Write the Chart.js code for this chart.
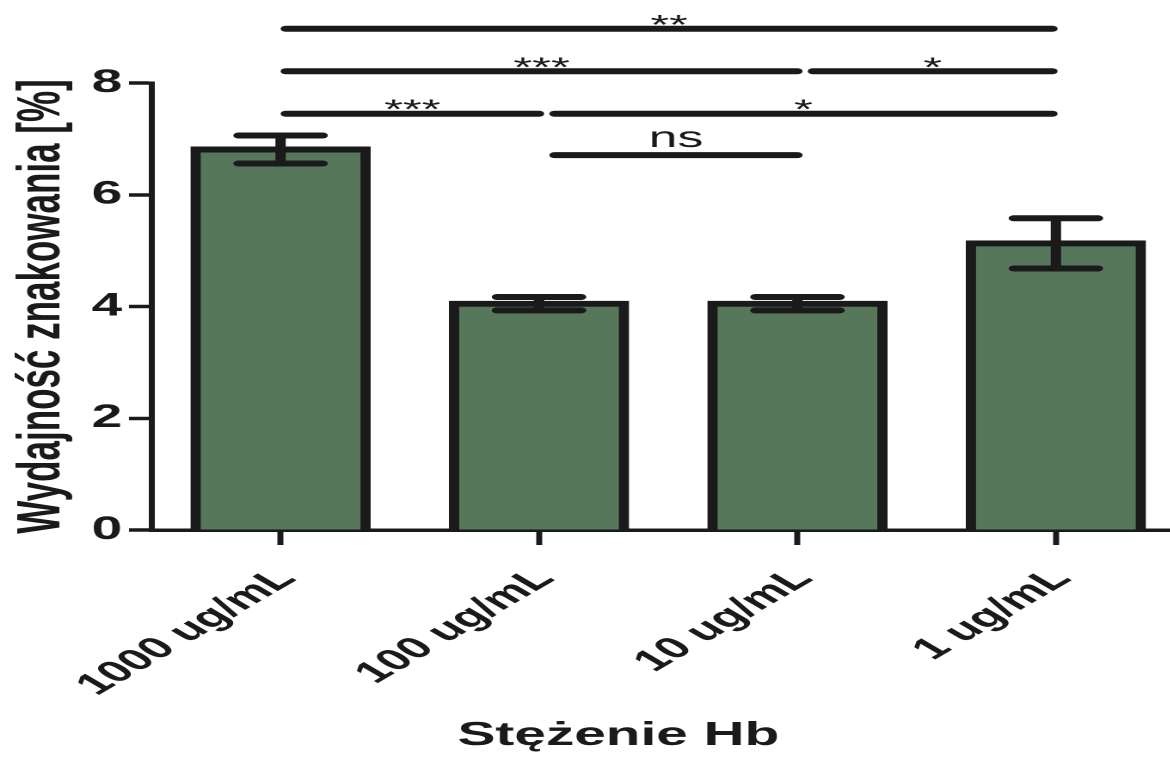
<!DOCTYPE html>
<html>
<head>
<meta charset="utf-8">
<script src="https://cdn.jsdelivr.net/npm/chart.js@4"></script>
<style>
  html, body { margin: 0; padding: 0; background: #fff; overflow: hidden; width: 1170px; height: 757px; }
  /* oryginalny rysunek jest rozciagniety w poziomie */
  #wrap { position: absolute; left: 0; top: 0; width: 696px; height: 757px; transform: scaleX(1.72); transform-origin: 0 0; }
</style>
</head>
<body>
<div id="wrap"><canvas id="wykres"></canvas></div>
<script>
// dane
const kategorie = ['1000 ug/mL', '100 ug/mL', '10 ug/mL', '1 ug/mL'];
const wydajnosc = [6.81, 4.05, 4.05, 5.13];
const blad = [0.25, 0.12, 0.12, 0.45];
const osY = [0, 2, 4, 6, 8];

// porownania: od slupka, do slupka, poziom kreski (jednostki osi Y), opis
const porOd = [0, 0, 2, 0, 1, 1];
const porDo = [3, 2, 3, 1, 3, 2];
const porPoziom = [8.97, 8.21, 8.21, 7.45, 7.45, 6.71];
const porOpis = ['**', '***', '*', '***', '*', 'ns'];

const tytulX = 'Stężenie Hb';
const tytulY = 'Wydajność znakowania [%]';

const czarny = '#1a1a1a';
const czcionka = '"Liberation Sans", Arial, sans-serif';
Chart.defaults.font.family = czcionka;
Chart.defaults.color = czarny;

const bledy = {
  id: 'bledy',
  afterDatasetsDraw(chart) {
    const ctx = chart.ctx;
    const y = chart.scales.y;
    ctx.save();
    ctx.strokeStyle = czarny;
    ctx.lineWidth = 6;
    ctx.lineCap = 'round';
    chart.getDatasetMeta(0).data.forEach((bar, i) => {
      const gora = y.getPixelForValue(wydajnosc[i] + blad[i]);
      const dol = y.getPixelForValue(wydajnosc[i] - blad[i]);
      const pol = 24.5;
      ctx.beginPath();
      ctx.moveTo(bar.x, gora); ctx.lineTo(bar.x, dol);
      ctx.moveTo(bar.x - pol, gora); ctx.lineTo(bar.x + pol, gora);
      ctx.moveTo(bar.x - pol, dol); ctx.lineTo(bar.x + pol, dol);
      ctx.stroke();
    });
    ctx.restore();
  }
};

const porownania = {
  id: 'porownania',
  afterDraw(chart) {
    const ctx = chart.ctx, x = chart.scales.x, y = chart.scales.y;
    const ostatni = kategorie.length - 1;
    ctx.save();
    ctx.strokeStyle = czarny;
    ctx.fillStyle = czarny;
    ctx.lineWidth = 6;
    ctx.lineCap = 'round';
    ctx.textAlign = 'center';
    ctx.textBaseline = 'alphabetic';
    porOd.forEach((a, k) => {
      const b = porDo[k];
      const x1 = x.getPixelForValue(a) + (a > 0 ? 9 : 3);
      const x2 = x.getPixelForValue(b) + (b < ostatni ? 0 : -2);
      const py = y.getPixelForValue(porPoziom[k]);
      ctx.beginPath();
      ctx.moveTo(x1, py); ctx.lineTo(x2, py);
      ctx.stroke();
      const ns = porOpis[k] === 'ns';
      ctx.font = (ns ? '30px ' : '28px ') + czcionka;
      ctx.fillText(porOpis[k], (x1 + x2) / 2, ns ? py - 8 : py + 5);
    });
    // tytul osi X (przesuniety w lewo jak w oryginale)
    const ca = chart.chartArea;
    ctx.font = 'bold 33px ' + czcionka;
    ctx.fillText(tytulX, (ca.left + ca.right) / 2 - 29, 745);
    ctx.restore();
  }
};

new Chart(document.getElementById('wykres'), {
  type: 'bar',
  data: {
    labels: kategorie,
    datasets: [{
      data: wydajnosc,
      backgroundColor: '#56775a',
      borderColor: czarny,
      borderWidth: 6,
      borderSkipped: 'start',
      inflateAmount: 3,
      categoryPercentage: 1,
      barPercentage: 0.658
    }]
  },
  options: {
    responsive: true,
    maintainAspectRatio: false,
    animation: false,
    devicePixelRatio: 2,
    layout: { padding: { top: 83, right: 7, left: 0, bottom: 0 } },
    plugins: { legend: { display: false }, tooltip: { enabled: false } },
    scales: {
      x: {
        z: 1,
        offset: true,
        grid: { drawOnChartArea: false, offset: false, tickLength: 15, tickWidth: 3.5, tickColor: czarny },
        border: { width: 3.5, color: czarny },
        ticks: {
          color: czarny,
          font: { size: 30, weight: 'bold' },
          minRotation: 45, maxRotation: 45, autoSkip: false,
          padding: 16, labelOffset: 4
        },
        afterFit(s) { s.height = 227; }
      },
      y: {
        min: 0, max: 8,
        afterBuildTicks(s) { s.ticks = osY.map(v => ({ value: v })); },
        grid: { drawOnChartArea: false, tickLength: 13, tickWidth: 3.5, tickColor: czarny },
        border: { width: 3.5, color: czarny },
        ticks: { color: czarny, font: { size: 32, weight: 'bold' }, padding: 4 },
        title: {
          display: true, text: tytulY, color: czarny,
          font: { size: 35, weight: 'bold' }, padding: { top: 4, bottom: 0 }
        },
        afterFit(s) { s.width = 88; }
      }
    }
  },
  plugins: [bledy, porownania]
});
</script>
</body>
</html>
